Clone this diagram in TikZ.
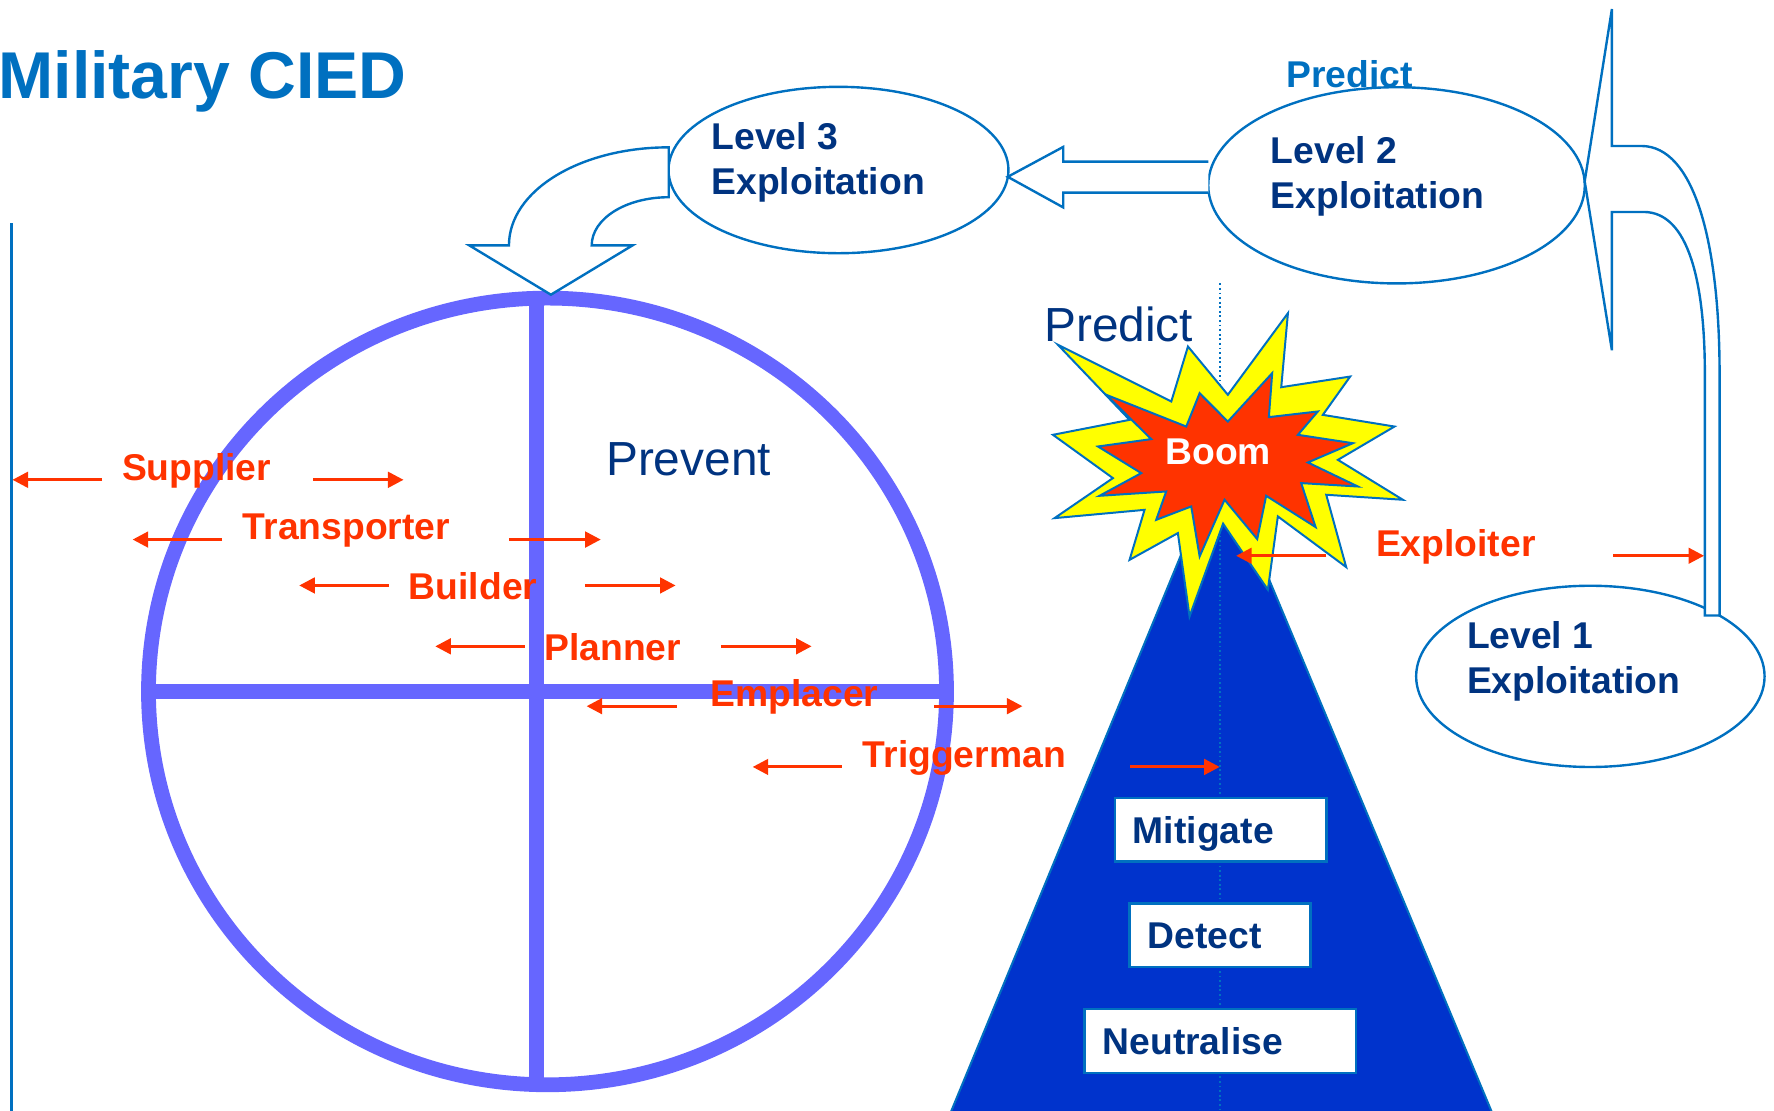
\documentclass[tikz,border=0pt]{standalone}
\usepackage{fontspec}
\setmainfont{Liberation Sans}
\usetikzlibrary{arrows.meta,shapes.geometric}
\definecolor{titleblue}{HTML}{0070C0}
\definecolor{navy}{HTML}{003380}
\definecolor{ringblue}{HTML}{6666FF}
\definecolor{iedred}{HTML}{FF3300}
\definecolor{pyrblue}{HTML}{0033CC}
\definecolor{boomyellow}{HTML}{FFFF00}
\begin{document}
\begin{tikzpicture}[x=0.01cm,y=-0.01cm,
  outl/.style={draw=titleblue, line width=0.6pt},
  ell/.style={ellipse, outl, inner sep=0pt},
  lvl/.style={font={\fontsize{9.35}{11.3}\selectfont\bfseries}, text=navy, inner sep=0pt, align=left, anchor=north west},
  redlbl/.style={font={\fontsize{9.35}{11.3}\selectfont\bfseries}, text=iedred, inner sep=0pt, anchor=base west},
  redarr/.style={draw=iedred, line width=0.75pt, -{Triangle[length=3.9pt,width=3.9pt]}},
  bigtxt/.style={font={\fontsize{12}{14}\selectfont}, text=navy, inner sep=0pt, anchor=base west},
  boxn/.style={rectangle, outl, fill=white, inner xsep=1.6mm, inner ysep=0pt, text height=2.35mm, text depth=0pt, align=left, font={\fontsize{9.35}{11.3}\selectfont\bfseries}, text=navy},
  ring/.style={draw=ringblue, line width=3.7pt},
  hollow/.style={outl, fill=white, line join=miter}
]
\useasboundingbox (0,0) rectangle (1565,980);
\clip (0,0) rectangle (1565,980);

% title and left rule
\node[font={\fontsize{16.6}{20}\selectfont\bfseries}, text=titleblue, inner sep=0pt, anchor=base west] (title) at (-2,86.7) {Military CIED};
\coordinate (ruleT) at (10.3,197);
\coordinate (ruleB) at (10.3,985);
\draw[outl] (ruleT) -- (ruleB);

% big ring with cross
\draw[ring] (483,610) ellipse [x radius=352, y radius=347];
\draw[ring] (473,262) -- (473,958);
\draw[ring] (131,610) -- (835,610);
\node[bigtxt] (prevent) at (534,419.8) {Prevent};

% exploitation ellipses
\node[ell, minimum width=29.97mm, minimum height=14.67mm] (l3e) at (739.7,150) {};
\node[ell, minimum width=33.2mm, minimum height=17.3mm] (l2e) at (1232,163.5) {};
\node[ell, minimum width=30.72mm, minimum height=15.98mm] (l1e) at (1403,596.7) {};
\node[lvl] (l3t) at (627,107.3) {Level 3\\Exploitation};
\node[lvl] (l2t) at (1120.5,119.9) {Level 2\\Exploitation};
\node[lvl] (l1t) at (1293.5,547.5) {Level 1\\Exploitation};
\node[font={\fontsize{9.35}{11.3}\selectfont\bfseries}, text=titleblue, inner sep=0pt, anchor=base west] (predtop) at (1134,76.8) {Predict};

% block arrow level 2 -> level 3
\draw[hollow] (1066,142.6) -- (938,142.6) -- (938,129.6) -- (889,156) -- (938,183) -- (938,170) -- (1066,170);

% curved block arrow level 3 -> ring
\draw[hollow] (590,130) .. controls (512,130) and (449,168) .. (449,216.5)
  -- (414,216.5) -- (486,260) -- (558,216.5) -- (522,216.5)
  .. controls (522,193) and (552,174) .. (590,174) -- cycle;

% curved block arrow level 1 -> level 2
\draw[hollow] (1422,128.8) -- (1422,8) -- (1398,160) -- (1422,309) -- (1422,187)
  -- (1450,187) .. controls (1490,187) and (1504,250) .. (1504,330)
  -- (1504,543) -- (1517,543) -- (1517,330)
  .. controls (1517,215) and (1495,128.8) .. (1448,128.8) -- cycle;

% pyramid
\draw[draw=titleblue, line width=0.5pt, fill=pyrblue] (1076,407) -- (831,1000) -- (1324,1000) -- cycle;
\coordinate (dotT) at (1076.5,250);
\coordinate (dotB) at (1076.5,985);
\draw[titleblue, line width=0.4pt, dash pattern=on 0.45pt off 0.7pt] (dotT) -- (dotB);

% boom
\draw[draw=titleblue, line width=0.5pt, fill=boomyellow, line join=miter]
 (933.3,304.2) -- (1033.3,354.2) -- (1048,305.7) -- (1083.2,348.3) -- (1136.2,276.3) -- (1130.3,341.6)
 -- (1191.1,332.2) -- (1167,366) -- (1230.2,376.3) -- (1180.3,405.7) -- (1237.6,440.9) -- (1170,436.5)
 -- (1187.6,500.3) -- (1127.3,455.6) -- (1118.5,520.3) -- (1079,462) -- (1049.4,543.9) -- (1039.1,470.3)
 -- (996.5,493.9) -- (1009.7,449.8) -- (930.3,457.1) -- (981.8,421.8) -- (928.9,383.6) -- (996.5,370.4) -- cycle;
\draw[draw=titleblue, line width=0.5pt, fill=iedred, line join=miter]
 (975.9,348.3) -- (1046.5,376.3) -- (1058.3,346.9) -- (1083.2,371.9) -- (1122.3,329.2) -- (1119.4,368)
 -- (1162.6,363) -- (1145,383.6) -- (1193.5,391) -- (1153.8,408) -- (1197.9,429.2) -- (1147.9,426.2)
 -- (1160.6,465) -- (1117,437.4) -- (1109.1,475.6) -- (1080.3,440.9) -- (1058.3,490.9) -- (1050.9,446.8)
 -- (1020,458.6) -- (1028.8,433.6) -- (970,437.4) -- (1006.8,417.4) -- (968.6,393.9) -- (1015.6,387.4) -- cycle;
\node[font={\fontsize{9.35}{11.3}\selectfont\bfseries}, text=white, inner sep=0pt, anchor=base west] (boom) at (1027.5,410) {Boom};
\node[bigtxt] (predict) at (920.5,301.3) {Predict};

% response boxes
\node[boxn, text width=15.45mm, minimum height=5.6mm] (mit) at (1076.75,732) {Mitigate};
\node[boxn, text width=12.76mm, minimum height=5.61mm] (det) at (1076.2,825.25) {Detect};
\node[boxn, text width=20.73mm, minimum height=5.65mm] (neu) at (1076.45,918.25) {Neutralise};

% red actors
\node[redlbl] (sup) at (107,424.2) {Supplier};
\node[redlbl] (tra) at (213.6,476.2) {Transporter};
\node[redlbl] (bui) at (360,529) {Builder};
\node[redlbl] (pla) at (479.6,582.6) {Planner};
\node[redlbl] (emp) at (626.2,623.7) {Emplacer};
\node[redlbl] (tri) at (760.5,677.5) {Triggerman};
\node[redlbl] (exl) at (1213.2,490.9) {Exploiter};

\foreach \n/\a/\b/\y in {supL/90/11/423.3, supR/276.5/356/423.3,
  traL/196/117/476, traR/449/530/476,
  buiL/343/264/516.5, buiR/516/596/516.5,
  plaL/463/384/570.2, plaR/636/716/570.2,
  empL/597/517.5/623, empR/824/902/623,
  triL/742.6/664/676.6, triR/997/1076/676.6,
  exlL/1170/1090.5/490.3, exlR/1423/1503.3/490.3}
{
  \coordinate (\n a) at (\a,\y);
  \coordinate (\n b) at (\b,\y);
  \draw[redarr] (\n a) -- (\n b);
}
\end{tikzpicture}
\end{document}
